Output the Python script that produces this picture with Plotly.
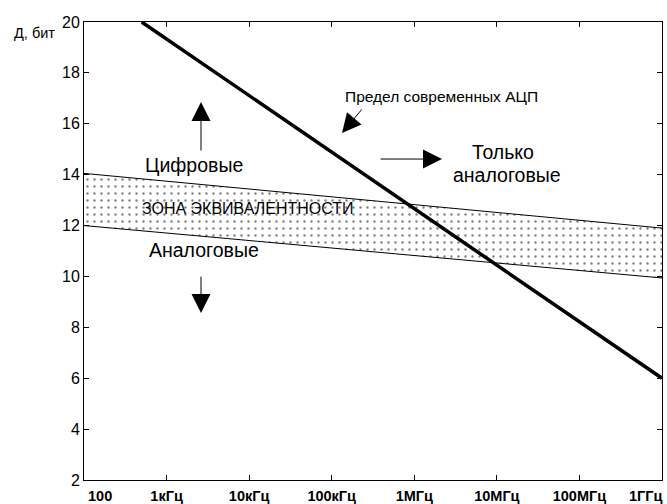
import plotly.graph_objects as go

# Data
freq_ticks = [1e2, 1e3, 1e4, 1e5, 1e6, 1e7, 1e8, 1e9]
freq_labels = ["100", "1кГц", "10кГц", "100кГц", "1МГц", "10МГц", "100МГц", "1ГГц"]
zone_x = [1e2, 1e9]
zone_upper = [14.05, 11.9]
zone_lower = [12.0, 9.94]
adc_x = [500, 1e9]
adc_y = [20.0, 6.0]

FONT = "Liberation Sans, Arial, sans-serif"

# first label nudged right, last label drawn right-aligned at the axis end
tick_text = ["\u00a0" * 8 + freq_labels[0]] + freq_labels[1:-1] + [""]

fig = go.Figure()
fig.add_trace(go.Scatter(x=zone_x, y=zone_lower, mode="lines",
                         line=dict(color="black", width=1), showlegend=False))
fig.add_trace(go.Scatter(x=zone_x, y=zone_upper, mode="lines",
                         line=dict(color="black", width=1), fill="tonexty",
                         fillcolor="white",
                         fillpattern=dict(shape=".", fgcolor="black", bgcolor="white",
                                          size=7, solidity=0.09),
                         showlegend=False))
fig.add_trace(go.Scatter(x=adc_x, y=adc_y, mode="lines",
                         line=dict(color="black", width=3.5), showlegend=False))

def txt(x, y, s, size):
    fig.add_annotation(x=x, y=y, text=s, showarrow=False,
                       font=dict(family=FONT, size=size, color="black"))

txt(6.324, 17.09, "Предел современных АЦП", 15.5)
txt(7.075, 14.89, "Только", 19.5)
txt(7.12, 13.99, "аналоговые", 19.5)
txt(3.332, 14.38, "Цифровые", 19.5)
txt(3.986, 12.69, "ЗОНА ЭКВИВАЛЕНТНОСТИ", 16)
txt(3.453, 11.04, "Аналоговые", 19.5)

def arrow(x, y, ax, ay, size=3.8):
    fig.add_annotation(x=x, y=y, ax=ax, ay=ay, axref="pixel", ayref="pixel",
                       text="", showarrow=True, arrowhead=2, arrowsize=size,
                       arrowwidth=1, arrowcolor="black")

arrow(3.417, 16.855, 0, 50)
arrow(3.417, 8.56, 0, -38)
arrow(5.125, 15.64, 21, -25)
arrow(6.336, 14.615, -63, 0)

fig.add_annotation(xref="paper", yref="paper", x=-0.047, y=0.976, xanchor="right",
                   yanchor="middle", text="Д, бит", showarrow=False,
                   font=dict(family=FONT, size=14.5, color="black"))

fig.add_annotation(xref="x", yref="paper", x=9, y=0, xanchor="right", yanchor="top",
                   xshift=3, yshift=-6, text=freq_labels[-1], showarrow=False,
                   font=dict(family=FONT, size=14.5, color="black", weight="bold"))

fig.update_layout(
    width=667, height=504,
    margin=dict(l=84, r=5, t=22, b=24, autoexpand=False),
    paper_bgcolor="white", plot_bgcolor="white",
    font=dict(family=FONT, color="black"),
)
fig.update_xaxes(type="log", range=[2, 9], tickvals=freq_ticks, ticktext=tick_text,
                 ticks="inside", ticklen=5, tickcolor="black", showline=True,
                 linecolor="black", linewidth=1, mirror="ticks", showgrid=False,
                 zeroline=False, ticklabeloverflow="allow", ticklabelstandoff=3,
                 automargin=False,
                 tickfont=dict(family=FONT, size=14.5, color="black", weight="bold"))
fig.update_yaxes(range=[2, 20], dtick=2, ticks="inside", ticklen=5, tickcolor="black",
                 showline=True, linecolor="black", linewidth=1, mirror="ticks",
                 showgrid=False, zeroline=False, automargin=False,
                 tickfont=dict(family=FONT, size=16, color="black"))

fig.write_html("out.html", config={"displayModeBar": False})

# remove default page margin so the figure sits at the window's top-left corner
with open("out.html", encoding="utf-8") as f:
    html = f.read()
html = html.replace("<head>", "<head><style>html,body{margin:0;padding:0;overflow:hidden}</style>", 1)
with open("out.html", "w", encoding="utf-8") as f:
    f.write(html)
